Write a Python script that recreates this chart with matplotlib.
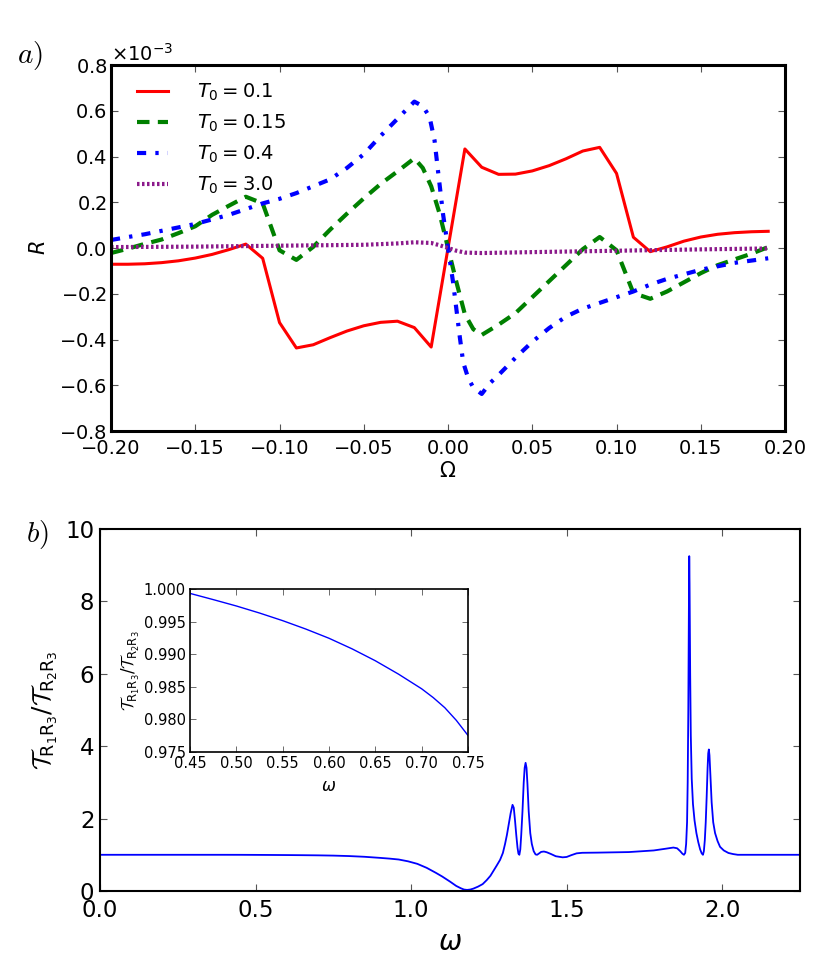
import numpy as np
import matplotlib
matplotlib.use("Agg")
import matplotlib.pyplot as plt
from matplotlib.ticker import ScalarFormatter, StrMethodFormatter

# ---------------- data (panel a) ----------------
omega_grid = [-0.20, -0.19, -0.18, -0.17, -0.16, -0.15, -0.14, -0.13, -0.12, -0.11,
              -0.10, -0.09, -0.08, -0.07, -0.06, -0.05, -0.04, -0.03, -0.02, -0.01,
              0.00, 0.01, 0.02, 0.03, 0.04, 0.05, 0.06, 0.07, 0.08, 0.09,
              0.10, 0.11, 0.12, 0.13, 0.14, 0.15, 0.16, 0.17, 0.18, 0.19]
R_T01 = [-0.071, -0.071, -0.069, -0.064, -0.056, -0.044, -0.028, -0.007, 0.017, -0.045,
         -0.326, -0.437, -0.423, -0.392, -0.363, -0.340, -0.325, -0.320, -0.348, -0.433,
         0.000, 0.433, 0.353, 0.322, 0.323, 0.337, 0.360, 0.390, 0.424, 0.440,
         0.326, 0.047, -0.016, 0.005, 0.030, 0.048, 0.060, 0.067, 0.071, 0.073]

omega_T015 = [-0.20, -0.19, -0.18, -0.17, -0.16, -0.15, -0.14, -0.13, -0.12, -0.11,
              -0.10, -0.09, -0.08, -0.07, -0.06, -0.05, -0.04, -0.03, -0.02, -0.015,
              -0.01, -0.005, 0.00, 0.005, 0.01, 0.015, 0.02, 0.03, 0.04, 0.05,
              0.06, 0.07, 0.08, 0.09, 0.10, 0.11, 0.12, 0.13, 0.14, 0.15,
              0.16, 0.17, 0.18, 0.19]
R_T015 = [-0.022, -0.003, 0.018, 0.037, 0.065, 0.095, 0.145, 0.185, 0.224, 0.195,
          -0.010, -0.052, 0.005, 0.080, 0.150, 0.217, 0.280, 0.335, 0.392, 0.350,
          0.270, 0.150, 0.000, -0.150, -0.290, -0.355, -0.380, -0.335, -0.285, -0.215,
          -0.145, -0.075, -0.005, 0.048, -0.010, -0.197, -0.222, -0.190, -0.150, -0.110,
          -0.075, -0.050, -0.025, 0.004]

omega_T04 = [-0.20, -0.19, -0.18, -0.17, -0.16, -0.15, -0.14, -0.13, -0.12, -0.11,
             -0.10, -0.09, -0.08, -0.07, -0.06, -0.05, -0.04, -0.03, -0.02, -0.015,
             -0.011, -0.008, -0.006, -0.003, 0.000, 0.003, 0.005, 0.007, 0.009, 0.012,
             0.015, 0.02, 0.025, 0.03, 0.04, 0.05, 0.06, 0.07, 0.08, 0.09,
             0.10, 0.11, 0.12, 0.13, 0.14, 0.15, 0.16, 0.17, 0.18, 0.19]
R_T04 = [0.035, 0.048, 0.060, 0.075, 0.090, 0.105, 0.125, 0.145, 0.170, 0.195,
         0.215, 0.240, 0.270, 0.300, 0.350, 0.410, 0.490, 0.565, 0.640, 0.620,
         0.574, 0.470, 0.340, 0.150, 0.000, -0.150, -0.270, -0.390, -0.500, -0.570,
         -0.610, -0.638, -0.590, -0.555, -0.480, -0.410, -0.350, -0.300, -0.265, -0.240,
         -0.215, -0.190, -0.160, -0.135, -0.115, -0.095, -0.080, -0.065, -0.055, -0.045]

omega_T30 = [-0.20, -0.15, -0.10, -0.05, -0.03, -0.02, -0.01, -0.005, 0.00, 0.005,
             0.01, 0.02, 0.05, 0.10, 0.15, 0.19]
R_T30 = [0.004, 0.006, 0.010, 0.014, 0.020, 0.025, 0.022, 0.012, 0.000, -0.012,
         -0.020, -0.022, -0.018, -0.012, -0.006, -0.002]

legend_labels = [r"$T_0 = 0.1$", r"$T_0 = 0.15$", r"$T_0 = 0.4$", r"$T_0 = 3.0$"]

# ---------------- data (panel b) ----------------
omega_b = [0.00, 0.20, 0.40, 0.45, 0.50, 0.55, 0.60, 0.65, 0.70, 0.75,
           0.80, 0.85, 0.90, 0.93, 0.96, 0.99, 1.02, 1.05, 1.08, 1.10,
           1.125, 1.145, 1.16, 1.17, 1.18, 1.19, 1.20, 1.215, 1.23, 1.243,
           1.255, 1.265, 1.275, 1.286, 1.295, 1.302, 1.308, 1.314, 1.32, 1.326,
           1.330, 1.334, 1.338, 1.342, 1.345, 1.348, 1.351, 1.354, 1.358, 1.362,
           1.365, 1.368, 1.371, 1.374, 1.378, 1.383, 1.388, 1.394, 1.40, 1.405,
           1.41, 1.418, 1.427, 1.436, 1.45, 1.465, 1.487, 1.50, 1.515, 1.532,
           1.55, 1.60, 1.70, 1.78, 1.82, 1.843, 1.855, 1.865, 1.872, 1.877,
           1.881, 1.884, 1.887, 1.889, 1.891, 1.893, 1.894, 1.895, 1.897, 1.899,
           1.902, 1.906, 1.911, 1.917, 1.923, 1.929, 1.934, 1.938, 1.941, 1.944,
           1.947, 1.950, 1.953, 1.955, 1.957, 1.959, 1.962, 1.966, 1.971, 1.977,
           1.985, 1.993, 2.005, 2.02, 2.035, 2.05, 2.10, 2.25]
ratio_b = [1.000, 1.000, 0.9998, 0.9993, 0.9974, 0.9952, 0.9925, 0.9890, 0.9847, 0.9776,
           0.965, 0.945, 0.915, 0.895, 0.870, 0.820, 0.750, 0.640, 0.500, 0.400,
           0.260, 0.140, 0.075, 0.040, 0.030, 0.040, 0.065, 0.120, 0.190, 0.300,
           0.420, 0.560, 0.700, 0.860, 1.050, 1.300, 1.550, 1.850, 2.150, 2.380,
           2.300, 1.950, 1.550, 1.200, 1.030, 1.000, 1.150, 1.550, 2.200, 3.000,
           3.400, 3.540, 3.400, 2.950, 2.200, 1.600, 1.300, 1.100, 1.010, 1.000,
           1.030, 1.080, 1.090, 1.070, 1.020, 0.960, 0.930, 0.940, 0.990, 1.040,
           1.055, 1.060, 1.075, 1.120, 1.170, 1.200, 1.180, 1.100, 1.030, 1.000,
           1.050, 1.300, 1.900, 3.000, 5.000, 8.000, 9.250, 8.500, 6.000, 4.300,
           3.100, 2.400, 1.950, 1.600, 1.350, 1.150, 1.040, 1.000, 1.100, 1.400,
           1.900, 2.600, 3.400, 3.800, 3.910, 3.750, 3.200, 2.450, 1.900, 1.600,
           1.380, 1.220, 1.120, 1.050, 1.020, 1.000, 1.000, 1.000]

omega_inset = [0.45, 0.475, 0.50, 0.525, 0.55, 0.575, 0.60, 0.625, 0.65, 0.675,
               0.70, 0.7125, 0.725, 0.7375, 0.75]
ratio_inset = [0.99933, 0.99838, 0.99740, 0.99632, 0.99515, 0.99386, 0.99245, 0.99082,
               0.98900, 0.98695, 0.98470, 0.98335, 0.98180, 0.97985, 0.97755]

# ---------------- style ----------------
plt.rcParams['font.family'] = ['DejaVu Sans']
plt.rcParams['mathtext.fontset'] = 'dejavusans'
plt.rcParams['mathtext.rm'] = 'DejaVu Sans'
plt.rcParams['mathtext.it'] = 'DejaVu Sans:italic'
plt.rcParams['mathtext.bf'] = 'DejaVu Sans:bold'
plt.rcParams['mathtext.sf'] = 'DejaVu Sans'
plt.rcParams['mathtext.cal'] = 'cmsy10'

fig = plt.figure(figsize=(8.31, 9.76), dpi=100)
fig.patch.set_facecolor('white')

def style_ticks(ax, size, xpad, ypad, length=5, width=0.8):
    ax.tick_params(axis='both', which='major', direction='in', top=True, right=True,
                   length=length, width=width, color='#555555', labelsize=size)
    ax.tick_params(axis='x', pad=xpad)
    ax.tick_params(axis='y', pad=ypad)

ratio_label = r"$\mathcal{T}_{\mathrm{R}_1\mathrm{R}_3}/\mathcal{T}_{\mathrm{R}_2\mathrm{R}_3}$"

# ---------------- panel a ----------------
ax1 = fig.add_axes([0.1336, 0.5584, 0.8111, 0.375])
scale = 1e-3
ax1.plot(omega_grid, np.array(R_T01) * scale, color='red', lw=2.2, ls='-', label=legend_labels[0])
ax1.plot(omega_T015, np.array(R_T015) * scale, color='green', lw=3, ls=(0, (3, 2)), label=legend_labels[1])
ax1.plot(omega_T04, np.array(R_T04) * scale, color='blue', lw=3, ls=(0, (2.2, 2.2, 0.8, 2.2)), label=legend_labels[2])
ax1.plot(omega_T30, np.array(R_T30) * scale, color='#8B1A8B', lw=3, ls=(0, (0.6, 0.6)), label=legend_labels[3])
ax1.set_xlim(-0.2, 0.2)
ax1.set_ylim(-0.8e-3, 0.8e-3)
ax1.set_xticks([-0.20, -0.15, -0.10, -0.05, 0.0, 0.05, 0.10, 0.15, 0.20])
ax1.set_yticks(np.array([-0.8, -0.6, -0.4, -0.2, 0.0, 0.2, 0.4, 0.6, 0.8]) * scale)
fmt = ScalarFormatter(useMathText=True)
fmt.set_powerlimits((-3, -3))
ax1.yaxis.set_major_formatter(fmt)
style_ticks(ax1, 14, xpad=6, ypad=3)
ax1.yaxis.get_offset_text().set_fontsize(14)
for s in ax1.spines.values():
    s.set_linewidth(2.2)
ax1.set_xlabel(r"$\Omega$", fontsize=15, labelpad=2)
ax1.set_ylabel(r"$R$", fontsize=15, labelpad=7)
leg = ax1.legend(loc='upper left', bbox_to_anchor=(0.01, 1.008), frameon=False, fontsize=14,
                 handlelength=1.6, handletextpad=1.5, labelspacing=0.5, borderaxespad=0.6)

# ---------------- panel b ----------------
ax2 = fig.add_axes([0.1203, 0.0871, 0.8424, 0.3709])
ax2.plot(omega_b, ratio_b, color='blue', lw=1.3)
ax2.set_xlim(0, 2.25)
ax2.set_ylim(0, 10)
ax2.set_xticks([0.0, 0.5, 1.0, 1.5, 2.0])
ax2.set_yticks([0, 2, 4, 6, 8, 10])
style_ticks(ax2, 16.5, xpad=6, ypad=4)
for s in ax2.spines.values():
    s.set_linewidth(1.5)
ax2.set_xlabel(r"$\omega$", fontsize=20, labelpad=4)
ax2.set_ylabel(ratio_label, fontsize=18, labelpad=4, math_fontfamily='custom')

# ---------------- inset ----------------
ax3 = fig.add_axes([0.2286, 0.2295, 0.3345, 0.167])
ax3.plot(omega_inset, ratio_inset, color='blue', lw=1.0)
ax3.set_xlim(0.45, 0.75)
ax3.set_ylim(0.975, 1.0)
ax3.set_xticks([0.45, 0.50, 0.55, 0.60, 0.65, 0.70, 0.75])
ax3.set_yticks([0.975, 0.980, 0.985, 0.990, 0.995, 1.000])
ax3.xaxis.set_major_formatter(StrMethodFormatter('{x:.2f}'))
ax3.yaxis.set_major_formatter(StrMethodFormatter('{x:.3f}'))
ax3.tick_params(axis='both', which='major', direction='in', top=True, right=True,
                length=4, width=0.6, color='#555555', labelsize=10.5, pad=3)
for s in ax3.spines.values():
    s.set_linewidth(1.2)
ax3.set_xlabel(r"$\omega$", fontsize=12, labelpad=4)
ax3.set_ylabel(ratio_label, fontsize=12, labelpad=1, math_fontfamily='custom')

# ---------------- panel letters ----------------
fig.text(0.036, 0.943, r"$a)$", fontsize=21, ha='center', va='center', math_fontfamily='cm')
fig.text(0.045, 0.452, r"$b)$", fontsize=21, ha='center', va='center', math_fontfamily='cm')

fig.savefig("out.png", dpi=100, facecolor='white')
